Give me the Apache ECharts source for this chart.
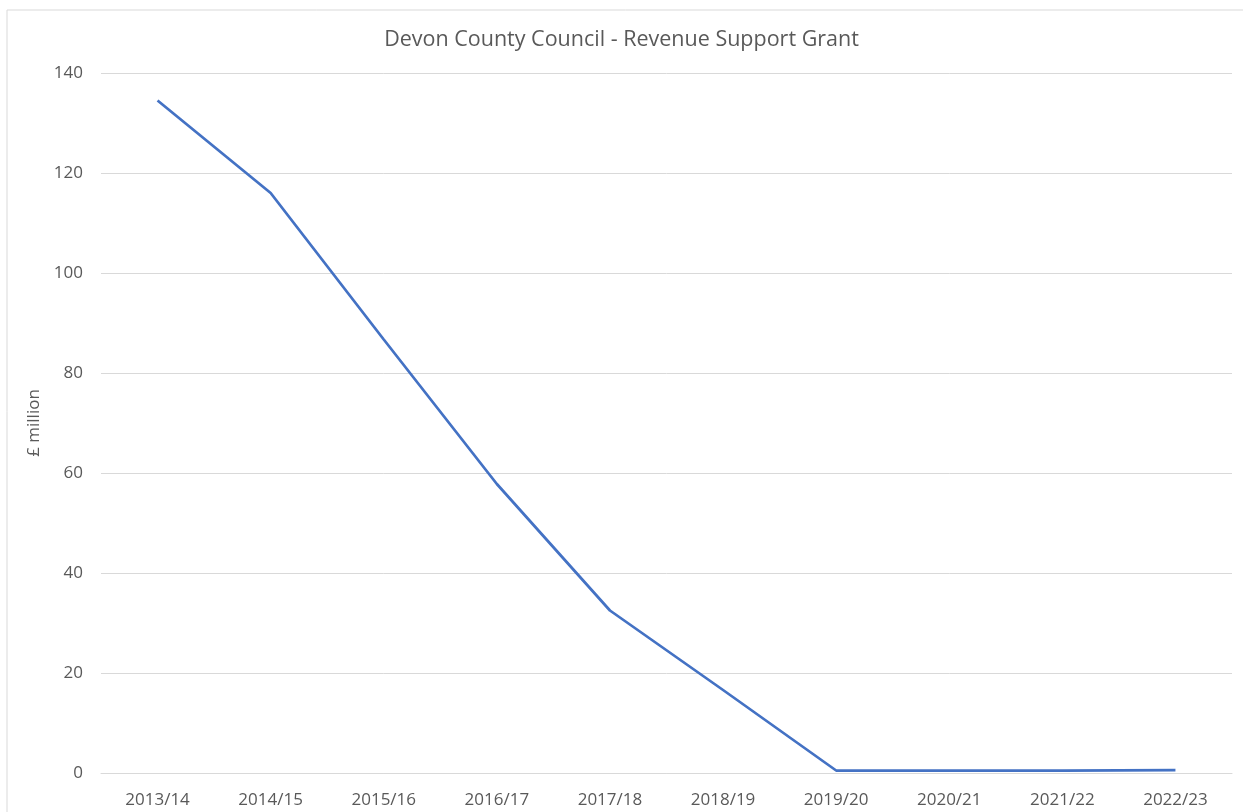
<!DOCTYPE html>
<html>
<head>
<meta charset="utf-8">
<script src="https://cdn.jsdelivr.net/npm/echarts@6/dist/echarts.min.js"></script>
<style>
html, body { margin: 0; padding: 0; background: #fff; }
#chart { width: 1243px; height: 812px; }
</style>
</head>
<body>
<div id="chart"></div>
<script>
var years = ['2013/14', '2014/15', '2015/16', '2016/17', '2017/18', '2018/19', '2019/20', '2020/21', '2021/22', '2022/23'];
var grant = [134.5, 116, 86.7, 57.8, 32.5, 16.6, 0.5, 0.5, 0.5, 0.6];
var yTicks = [0, 20, 40, 60, 80, 100, 120, 140];

var chart = echarts.init(document.getElementById('chart'));
var textColor = '#595959';
var option = {
    backgroundColor: '#fff',
    animation: false,
    title: {
        text: 'Devon County Council - Revenue Support Grant',
        left: 'center',
        top: 24,
        textStyle: { color: textColor, fontFamily: 'Open Sans', fontSize: 21.5, fontWeight: 'normal' }
    },
    graphic: [{
        type: 'rect',
        shape: { x: 7, y: 10, width: 1250, height: 820 },
        style: { fill: 'none', stroke: '#d9d9d9', lineWidth: 1 },
        silent: true
    }],
    grid: { left: 101, right: 11, top: 73, bottom: 39, containLabel: false },
    xAxis: {
        type: 'category',
        data: years,
        boundaryGap: true,
        axisLine: { lineStyle: { color: '#d9d9d9' } },
        axisTick: { show: false },
        axisLabel: { color: textColor, fontFamily: 'Open Sans', fontSize: 17, margin: 19 }
    },
    yAxis: {
        type: 'value',
        min: yTicks[0],
        max: yTicks[yTicks.length - 1],
        interval: 20,
        name: '£ million',
        nameLocation: 'middle',
        nameGap: 53,
        nameTextStyle: { color: textColor, fontFamily: 'Open Sans', fontSize: 17 },
        axisLine: { show: false },
        axisTick: { show: false },
        splitLine: { lineStyle: { color: '#d9d9d9', width: 1 } },
        axisLabel: { color: textColor, fontFamily: 'Open Sans', fontSize: 17, margin: 18 }
    },
    series: [{
        name: 'Revenue Support Grant',
        type: 'line',
        data: grant,
        symbol: 'none',
        lineStyle: { color: '#4472c4', width: 2.75 }
    }]
};
chart.setOption(option);
</script>
</body>
</html>
